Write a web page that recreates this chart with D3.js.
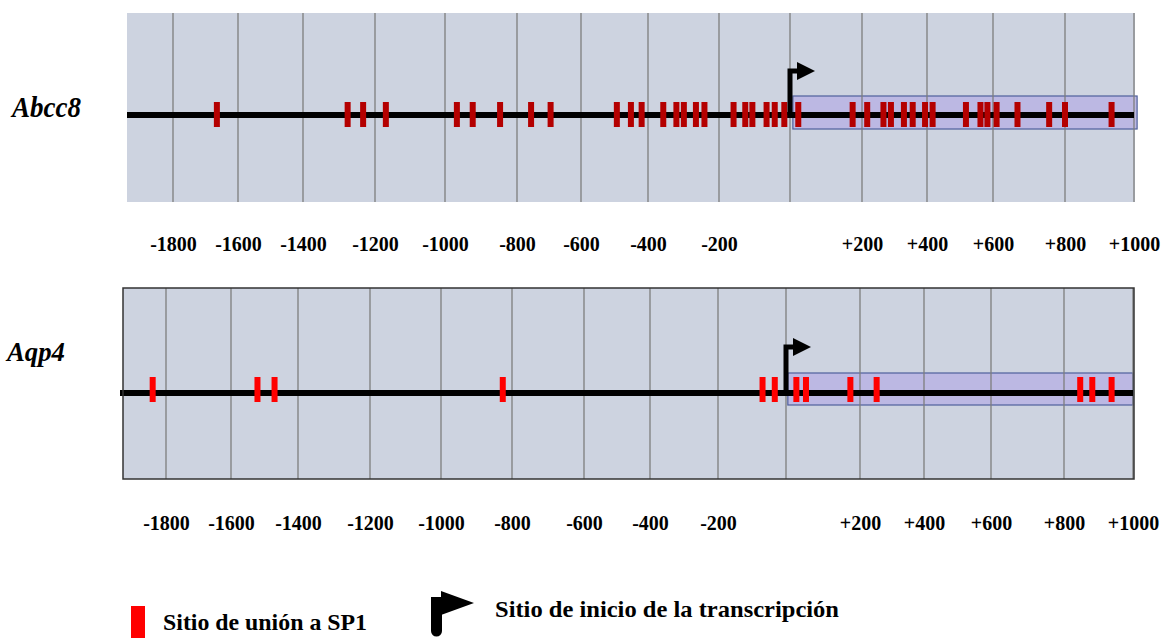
<!DOCTYPE html>
<html lang="es">
<head>
<meta charset="UTF-8">
<title>Sitios SP1</title>
<script src="https://cdn.jsdelivr.net/npm/d3@7"></script>
<style>
  body{margin:0;background:#fff;}
  svg text{font-family:"Liberation Serif","Times New Roman",serif;font-weight:bold;}
</style>
</head>
<body>
<svg width="1165" height="638"></svg>
<script>
// posiciones en pb respecto al sitio de inicio de la transcripción
var genes = ["Abcc8", "Aqp4"];
var abcc8Sites = [-1665, -1276, -1233, -1169, -967, -923, -847, -756, -695, -493,
                  -451, -419, -357, -320, -299, -265, -241, -159, -126, -106,
                  -66, -43, -16, 23, 174, 216, 266, 289, 329, 356,
                  394, 417, 518, 562, 583, 610, 668, 756, 800, 935];
var aqp4Sites = [-1841, -1521, -1470, -826, -69, -33, 28, 54, 174, 252, 847, 882, 938];
var transcribedRegion = [[8, 1009], [5, 1000]];
var gridStops = [-1800, -1600, -1400, -1200, -1000, -800, -600, -400, -200, 0, 200, 400, 600, 800, 1000];
var tickValues = [-1800, -1600, -1400, -1200, -1000, -800, -600, -400, -200, 200, 400, 600, 800, 1000];
var legendLabels = ["Sitio de unión a SP1", "Sitio de inicio de la transcripción"];

var svg = d3.select("svg");

// layout de cada panel (posiciones en px de las líneas de la cuadrícula)
var panels = [
  {name: genes[0], sites: abcc8Sites, region: transcribedRegion[0],
   x0: 127, x1: 1135, y0: 13, y1: 202,
   range: [173, 238, 303, 375, 445, 517, 581, 648, 719, 790, 862, 927, 993, 1065, 1134],
   lineY: 115, lineX0: 127,
   siteColor: "#b40000", siteTop: -13, boxTop: -19, boxH: 33, arrowY: 71,
   border: false, axisY: 237, labelX: 12, labelY: 117, labelSize: 30, labelLen: 69},
  {name: genes[1], sites: aqp4Sites, region: transcribedRegion[1],
   x0: 123, x1: 1134, y0: 288, y1: 479,
   range: [166, 231, 298, 370, 441, 512, 584, 650, 718, 786, 860, 924, 991, 1064, 1133],
   lineY: 393, lineX0: 120,
   siteColor: "#ff0000", siteTop: -16, boxTop: -20, boxH: 32, arrowY: 347,
   border: true, axisY: 516, labelX: 7, labelY: 361, labelSize: 27, labelLen: 58}
];

panels.forEach(function(p) {
  var x = d3.scaleLinear().domain(gridStops).range(p.range);
  var g = svg.append("g");

  g.append("rect")
    .attr("x", p.x0).attr("y", p.y0)
    .attr("width", p.x1 - p.x0).attr("height", p.y1 - p.y0)
    .attr("fill", "#cdd3e0");

  // región transcrita
  g.append("rect")
    .attr("x", x(p.region[0])).attr("y", p.lineY + p.boxTop)
    .attr("width", x(p.region[1]) - x(p.region[0])).attr("height", p.boxH)
    .attr("fill", "#bcb8e3")
    .attr("stroke", "#4f5f9c").attr("stroke-width", 1.2);

  g.selectAll("line.grid")
    .data(gridStops)
    .enter().append("line")
    .attr("class", "grid")
    .attr("x1", function(d){ return x(d); }).attr("x2", function(d){ return x(d); })
    .attr("y1", p.y0).attr("y2", p.y1)
    .attr("stroke", "#7d7d7d").attr("stroke-width", 1.3);

  // ADN
  g.append("line")
    .attr("x1", p.lineX0).attr("x2", x(1000))
    .attr("y1", p.lineY).attr("y2", p.lineY)
    .attr("stroke", "#000").attr("stroke-width", 6);

  g.selectAll("rect.site")
    .data(p.sites)
    .enter().append("rect")
    .attr("class", "site")
    .attr("x", function(d){ return x(d) - 3; })
    .attr("y", p.lineY + p.siteTop)
    .attr("width", 6).attr("height", 25)
    .attr("fill", p.siteColor);

  // flecha de inicio de transcripción
  var ax = x(0);
  g.append("path")
    .attr("d", "M" + ax + "," + p.lineY + "V" + p.arrowY + "H" + (ax + 8))
    .attr("fill", "none").attr("stroke", "#000").attr("stroke-width", 5);
  g.append("path")
    .attr("d", "M" + (ax + 7) + "," + (p.arrowY - 9) + "L" + (ax + 25) + "," + p.arrowY +
               "L" + (ax + 7) + "," + (p.arrowY + 9) + "Z")
    .attr("fill", "#000");

  if (p.border) {
    g.append("rect")
      .attr("x", p.x0).attr("y", p.y0)
      .attr("width", p.x1 - p.x0).attr("height", p.y1 - p.y0)
      .attr("fill", "none").attr("stroke", "#333").attr("stroke-width", 1.5);
  }

  var axis = d3.axisBottom(x)
    .tickValues(tickValues)
    .tickSize(0).tickPadding(0)
    .tickFormat(function(d){ return d > 0 ? "+" + d : String(d); });
  var ag = svg.append("g")
    .attr("transform", "translate(0," + p.axisY + ")")
    .call(axis);
  ag.select(".domain").remove();
  ag.selectAll("text")
    .attr("font-family", "Liberation Serif")
    .attr("font-weight", "bold")
    .attr("font-size", 20)
    .attr("fill", "#000");

  svg.append("text")
    .attr("x", p.labelX).attr("y", p.labelY)
    .attr("font-size", p.labelSize)
    .attr("font-style", "italic")
    .attr("textLength", p.labelLen)
    .attr("lengthAdjust", "spacingAndGlyphs")
    .text(p.name);
});

// leyenda
var lg = svg.append("g");
lg.append("rect").attr("x", 131).attr("y", 606).attr("width", 14).attr("height", 34).attr("fill", "#ff0000");
lg.append("text").attr("x", 163).attr("y", 630).attr("font-size", 24)
  .attr("textLength", 204).attr("lengthAdjust", "spacingAndGlyphs")
  .text(legendLabels[0]);

lg.append("rect").attr("x", 431).attr("y", 597).attr("width", 11).attr("height", 34).attr("fill", "#000");
lg.append("circle").attr("cx", 436.5).attr("cy", 631).attr("r", 5.5).attr("fill", "#000");
lg.append("path").attr("d", "M441,591L474,603L441,615Z").attr("fill", "#000");
lg.append("text").attr("x", 495).attr("y", 617).attr("font-size", 24)
  .attr("textLength", 344).attr("lengthAdjust", "spacingAndGlyphs")
  .text(legendLabels[1]);
</script>
</body>
</html>
